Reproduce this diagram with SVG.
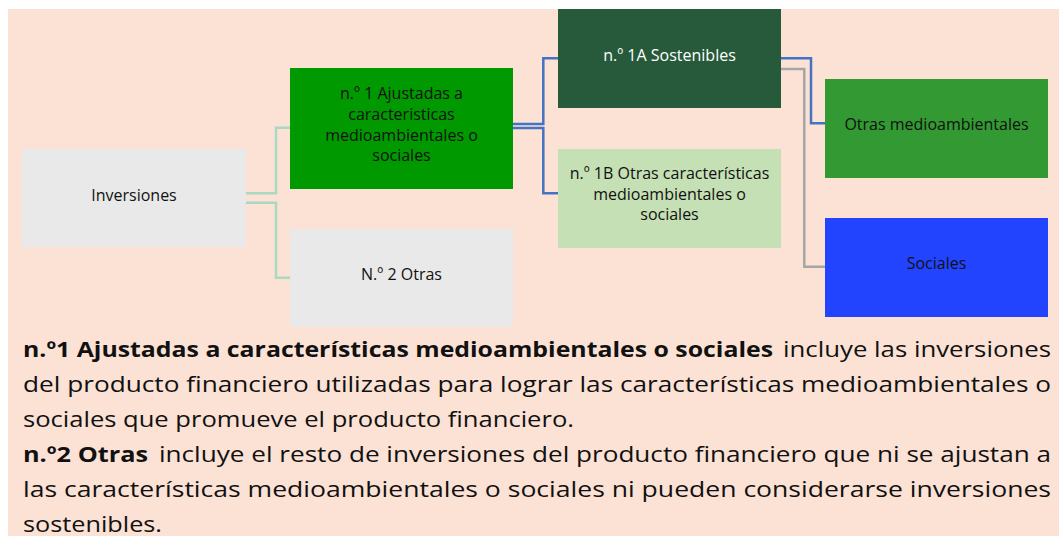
<svg xmlns="http://www.w3.org/2000/svg" width="1059" height="536" viewBox="0 0 1059 536">
<style>
.n{font-family:"Open Sans","Liberation Sans",sans-serif;font-size:16px;text-anchor:middle;fill:#111}
.p{font-family:"Open Sans","Liberation Sans",sans-serif;font-size:22px;fill:#111}
.b{font-weight:bold}
.teal{fill:none;stroke:#A9D9C3;stroke-width:2.5}
.blue{fill:none;stroke:#4472C4;stroke-width:2.5}
.gray{fill:none;stroke:#A6A6A6;stroke-width:2.5}
</style>
<rect x="0" y="0" width="1059" height="536" fill="#FFFFFF"/>
<rect x="8" y="9" width="1051" height="527" fill="#FBE2D5"/>
<g id="connectors">
<polyline class="teal" points="246,193.3 276,193.3 276,127.7 290,127.7"/>
<polyline class="teal" points="246,202.7 276,202.7 276,277.7 290,277.7"/>
<polyline class="blue" points="513,124 543.3,124 543.3,58.3 558,58.3"/>
<polyline class="blue" points="513,128 543.3,128 543.3,193.3 558,193.3"/>
<polyline class="blue" points="781,58.3 811,58.3 811,123.3 825,123.3"/>
<polyline class="gray" points="781,69 804.3,69 804.3,266.7 825,266.7"/>
</g>
<g id="inversiones">
<rect x="22" y="149" width="224" height="98" fill="#E8E9E8"/>
<text class="n" x="134" y="200.5">Inversiones</text>
</g>
<g id="n1">
<rect x="290" y="68" width="223" height="121" fill="#009900"/>
<text class="n" x="401.5" y="99.3">n.º 1 Ajustadas a</text>
<text class="n" x="401.5" y="120">caracteristicas</text>
<text class="n" x="401.5" y="140.7">medioambientales o</text>
<text class="n" x="401.5" y="161.3">sociales</text>
</g>
<g id="n2">
<rect x="290" y="229" width="223" height="98" fill="#E8E9E8"/>
<text class="n" x="401.5" y="280">N.º 2 Otras</text>
</g>
<g id="n1a">
<rect x="558" y="9" width="223" height="99" fill="#265A3A"/>
<text class="n" x="669.5" y="61" style="fill:#FFFFFF">n.º 1A Sostenibles</text>
</g>
<g id="n1b">
<rect x="558" y="149" width="223" height="99" fill="#C5E0B4"/>
<text class="n" x="669.5" y="179">n.º 1B Otras características</text>
<text class="n" x="669.5" y="199.5">medioambientales o</text>
<text class="n" x="669.5" y="220">sociales</text>
</g>
<g id="otras">
<rect x="825" y="79" width="223" height="99" fill="#339933"/>
<text class="n" x="936.5" y="130">Otras medioambientales</text>
</g>
<g id="sociales">
<rect x="825" y="218" width="223" height="99" fill="#2344FF"/>
<text class="n" x="936.5" y="268.7">Sociales</text>
</g>
<g id="legend">
<text class="p b" x="23" y="357" textLength="750" lengthAdjust="spacingAndGlyphs">n.º1 Ajustadas a características medioambientales o sociales</text>
<text class="p" x="783" y="357" textLength="268" lengthAdjust="spacingAndGlyphs">incluye las inversiones</text>
<text class="p" x="23" y="392" textLength="1028" lengthAdjust="spacingAndGlyphs">del producto financiero utilizadas para lograr las características medioambientales o</text>
<text class="p" x="23" y="427" textLength="551" lengthAdjust="spacingAndGlyphs">sociales que promueve el producto financiero.</text>
<text class="p b" x="23" y="462" textLength="125" lengthAdjust="spacingAndGlyphs">n.º2 Otras</text>
<text class="p" x="159" y="462" textLength="892" lengthAdjust="spacingAndGlyphs">incluye el resto de inversiones del producto financiero que ni se ajustan a</text>
<text class="p" x="23" y="497" textLength="1028" lengthAdjust="spacingAndGlyphs">las características medioambientales o sociales ni pueden considerarse inversiones</text>
<text class="p" x="23" y="532" textLength="139" lengthAdjust="spacingAndGlyphs">sostenibles.</text>
</g>
</svg>
